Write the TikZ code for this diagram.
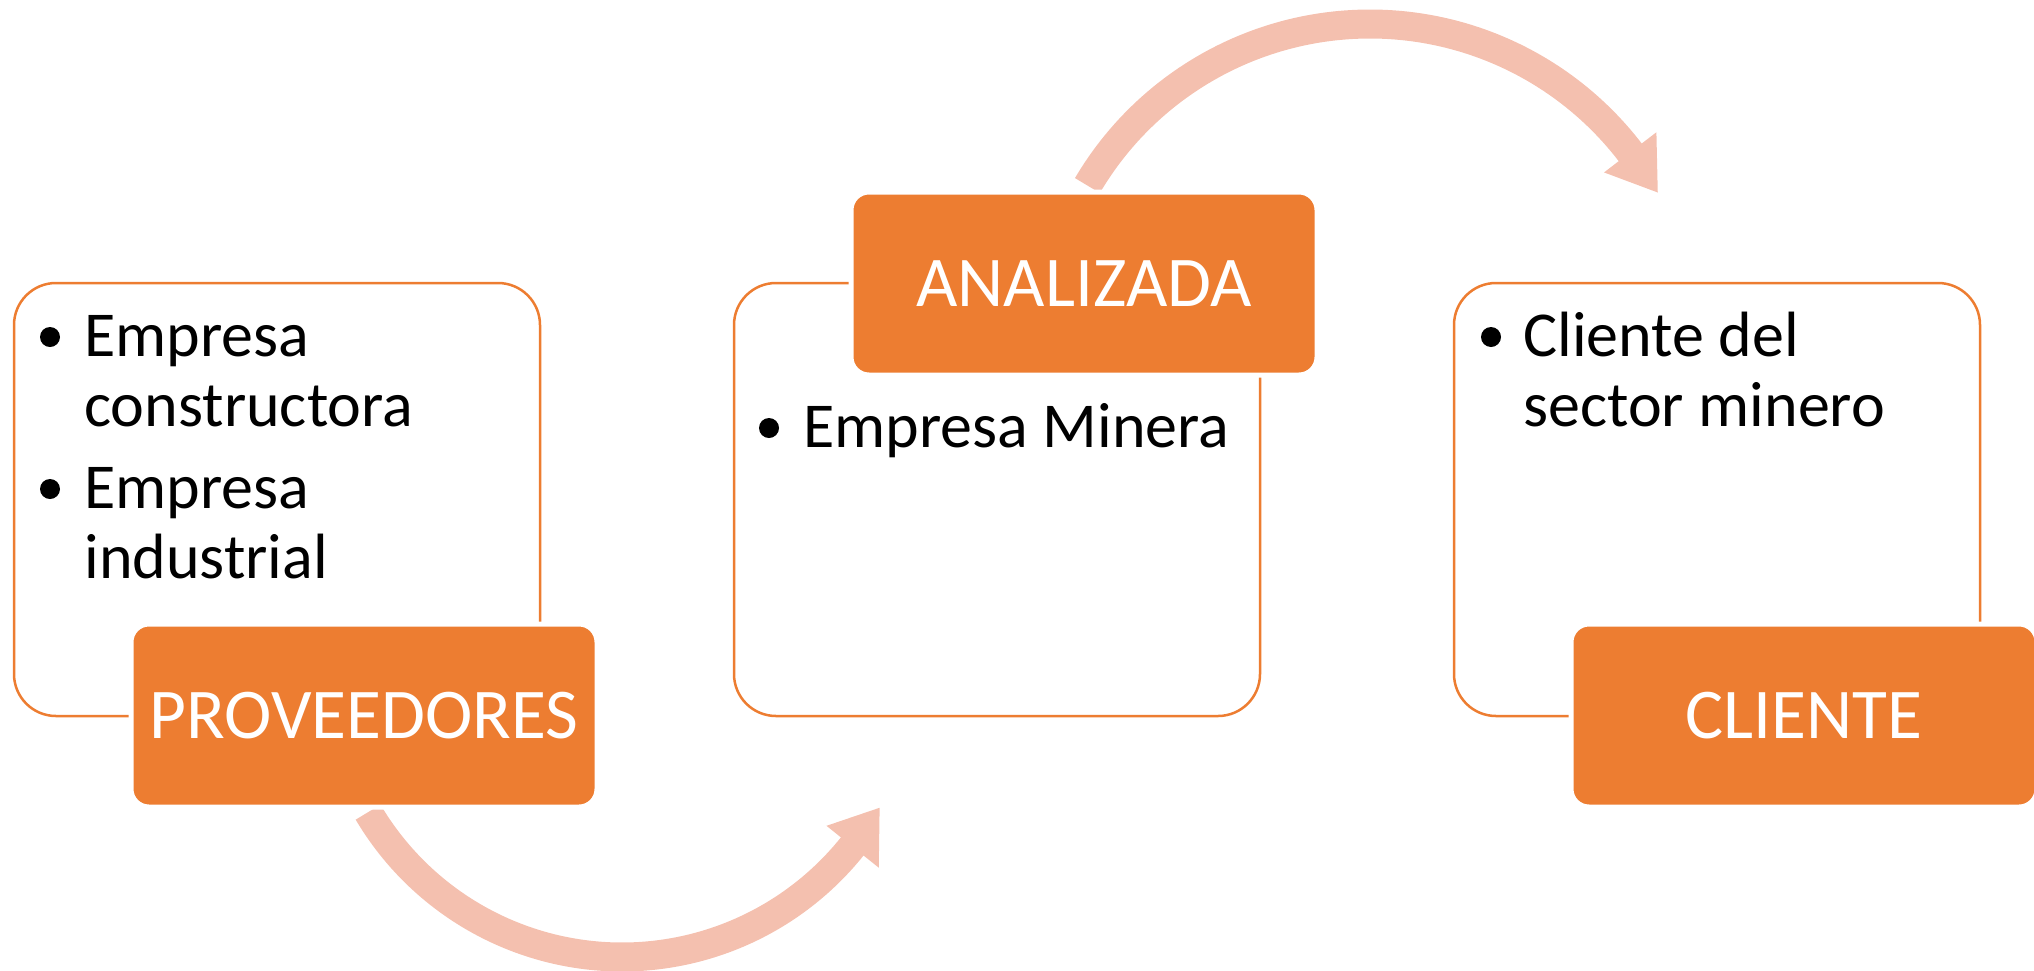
\documentclass[tikz,border=0pt]{standalone}
\usepackage{fontspec}
\setmainfont{Carlito}
\usetikzlibrary{calc}
\definecolor{acc}{RGB}{237,125,49}
\definecolor{arr}{RGB}{244,192,175}
\tikzset{
  panel/.style={draw=acc, line width=1.25pt, rounded corners=21pt, fill=white,
    minimum width=263pt, minimum height=216.5pt, inner sep=0pt},
  tag/.style={fill=acc, draw=white, line width=2.5pt, rounded corners=9pt,
    minimum width=233pt, minimum height=91.5pt, inner sep=0pt},
  tagtext/.style={text=white, font=\fontsize{35.7}{42}\selectfont, anchor=base, inner sep=0pt},
  item/.style={font=\fontsize{32}{38}\selectfont, anchor=base west, inner sep=0pt},
  dot/.style={circle, fill=black, minimum size=10pt, inner sep=0pt},
  band/.style={draw=arr, line width=14.5pt},
  head/.style={fill=arr},
}
\begin{document}
\begin{tikzpicture}[x=0.5pt,y=-0.5pt]
\useasboundingbox (0,0) rectangle (2034,970);
% arrow centres
\coordinate (bc) at (622,662);
\coordinate (tc) at (1370,352);
% bottom arrow
\draw[band] ([shift={(149.4:295)}]bc) arc[start angle=149.4, end angle=37.8, radius=295];
\fill[head] ($(bc)+(38.7:262)$) coordinate (bh1) -- ($(bc)+(29.5:296)$) coordinate (btip) -- ($(bc)+(38.7:329)$) coordinate (bh2) -- cycle;
% top arrow
\draw[band] ([shift={(210.5:328)}]tc) arc[start angle=210.5, end angle=323.4, radius=328];
\fill[head] ($(tc)+(322.5:295)$) coordinate (th1) -- ($(tc)+(331:329)$) coordinate (ttip) -- ($(tc)+(322.5:361)$) coordinate (th2) -- cycle;
% panels
\node[panel] (p1) at (277,499.5) {};
\node[panel] (p2) at (997,499.5) {};
\node[panel] (p3) at (1717,499.5) {};
% tags
\node[tag] (t1) at (364,715.5) {};
\node[tag] (t2) at (1084,283.5) {};
\node[tag] (t3) at (1804,715.5) {};
\node[tagtext] (t1l) at (364,738) {PROVEEDORES};
\node[tagtext] (t2l) at (1084,306) {ANALIZADA};
\node[tagtext] (t3l) at (1804,738) {CLIENTE};
% left panel text
\node[dot] (d1) at (50,337) {};
\node[item] (a1) at (84,356) {Empresa};
\node[item] (a2) at (84,426) {constructora};
\node[dot] (d2) at (50,489) {};
\node[item] (a3) at (84,508) {Empresa};
\node[item] (a4) at (84,578) {industrial};
% middle panel text
\node[dot] (d3) at (769,428) {};
\node[item] (b1) at (803,447) {Empresa Minera};
% right panel text
\node[dot] (d4) at (1491,337) {};
\node[item] (c1) at (1523,356) {Cliente del};
\node[item] (c2) at (1523,426) {sector minero};
\end{tikzpicture}
\end{document}
